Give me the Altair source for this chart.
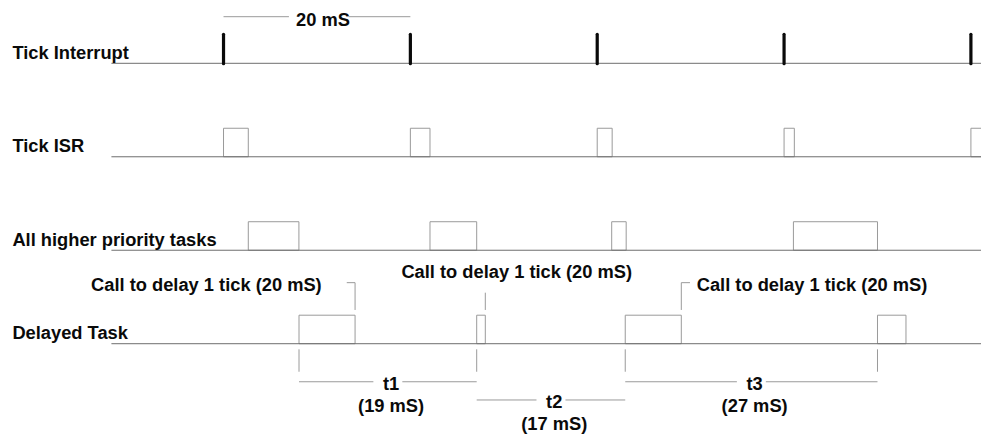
import altair as alt
import pandas as pd

# ---- data (times in ms) ----
row_labels = ["Tick Interrupt", "Tick ISR", "All higher priority tasks", "Delayed Task"]
tick_times = [0, 20, 40, 60, 80]
isr_start = [0, 20, 40, 60, 80]
isr_end = [2.65, 22.1, 41.6, 61.1, 84]
hp_start = [2.65, 22.1, 41.55, 61.0]
hp_end = [8.07, 27.1, 43.1, 70.0]
dt_start = [8.08, 27.1, 43.0, 70.0]
dt_end = [14.08, 28.02, 49.0, 73.05]
call_text = "Call to delay 1 tick (20 mS)"
interval_names = ["t1", "t2", "t3"]
interval_values = ["(19 mS)", "(17 mS)", "(27 mS)"]
interval_start = [8.08, 27.1, 43.0]
interval_end = [27.1, 43.0, 70.0]
period_label = "20 mS"

# ---- layout constants ----
H = 0.305          # pulse height in row units
FONT = "Liberation Sans"
TXT = "#0a0a0a"
BASE = "#6e6e6e"
EDGE = "#9a9a9a"
FS = 18.3

xs = alt.Scale(domain=[-23.07, 81.08], nice=False, zero=False)
ys = alt.Scale(domain=[-0.5916, 3.966], nice=False, zero=False, reverse=True)
X = lambda f: alt.X(f, type="quantitative", scale=xs, axis=None)
Y = lambda f: alt.Y(f, type="quantitative", scale=ys, axis=None)

# baselines
base_df = pd.DataFrame({"x": [-12] * 4, "x2": [84] * 4, "y": [0, 1, 2, 3]})

# pulses
rows = []
for s, e in zip(isr_start, isr_end):
    rows.append({"x": s, "x2": e, "y": 1 - H, "y2": 1})
for s, e in zip(hp_start, hp_end):
    rows.append({"x": s, "x2": e, "y": 2 - H, "y2": 2})
for s, e in zip(dt_start, dt_end):
    rows.append({"x": s, "x2": e, "y": 3 - H, "y2": 3})
pulse_df = pd.DataFrame(rows)

tick_df = pd.DataFrame({"x": tick_times, "y": [-0.31] * 5, "y2": [0.005] * 5})

label_df = pd.DataFrame({"x": [-22.6] * 4, "y": [r - 0.05 for r in range(4)], "t": row_labels})

# annotation segments
segs = []
def seg(x, x2, y, y2):
    segs.append({"x": x, "x2": x2, "y": y, "y2": y2})

seg(tick_times[0], 7.0, -0.4986, -0.4986)
seg(13.4, tick_times[1], -0.4986, -0.4986)
# callouts
c1, c2, c3 = dt_end[0], dt_end[1], dt_end[2]
seg(c1 - 0.89, c1, 2.347, 2.347)
seg(c1, c1, 2.347, 2.639)
seg(c2, c2, 2.454, 2.639)
seg(c3, c3, 2.347, 2.639)
seg(c3, c3 + 0.93, 2.347, 2.347)
# interval brackets
for t in sorted(set(interval_start + interval_end)):
    seg(t, t, 3.06, 3.30)
line_y = [3.407, 3.602, 3.407]
for s, e, ly in zip(interval_start, interval_end, line_y):
    c = (s + e) / 2
    seg(s, c - 1.55, ly, ly)
    seg(c + 1.55, e, ly, ly)
seg_df = pd.DataFrame(segs)

center_txt = [{"x": 10.65, "y": -0.402, "t": period_label},
              {"x": c2 + 3.36, "y": 2.294, "t": call_text}]
for s, e, ly, n, v in zip(interval_start, interval_end, line_y, interval_names, interval_values):
    c = (s + e) / 2 + 0.35
    center_txt.append({"x": c, "y": ly + 0.085, "t": n})
    center_txt.append({"x": c, "y": ly + 0.32, "t": v})
center_df = pd.DataFrame(center_txt)
right_df = pd.DataFrame([{"x": c1 - 3.57, "y": 2.431, "t": call_text}])
left_df = pd.DataFrame([{"x": c3 + 1.65, "y": 2.431, "t": call_text}])

pulses = alt.Chart(pulse_df).mark_rect(filled=False, stroke=EDGE, strokeWidth=1, clip=True).encode(
    x=X("x"), x2="x2", y=Y("y"), y2="y2")
baselines = alt.Chart(base_df).mark_rule(color=BASE, strokeWidth=1, clip=True).encode(
    x=X("x"), x2="x2", y=Y("y"))
ticks = alt.Chart(tick_df).mark_rule(color=TXT, strokeWidth=3.2, strokeCap="round").encode(
    x=X("x"), y=Y("y"), y2="y2")
segments = alt.Chart(seg_df).mark_rule(color=EDGE, strokeWidth=1).encode(
    x=X("x"), x2="x2", y=Y("y"), y2="y2")

def txt(df, align):
    return alt.Chart(df).mark_text(align=align, baseline="alphabetic", font=FONT,
                                   fontSize=FS, fontWeight="bold", color=TXT).encode(
        x=X("x"), y=Y("y"), text="t:N")

chart = alt.layer(
    pulses, baselines, ticks, segments,
    txt(label_df, "left"), txt(center_df, "center"), txt(right_df, "right"), txt(left_df, "left"),
).properties(width=973, height=426, padding=0, autosize="none", background="white"
).configure_view(stroke=None)

chart.save("out.html", embed_options={"renderer": "svg", "actions": False})
